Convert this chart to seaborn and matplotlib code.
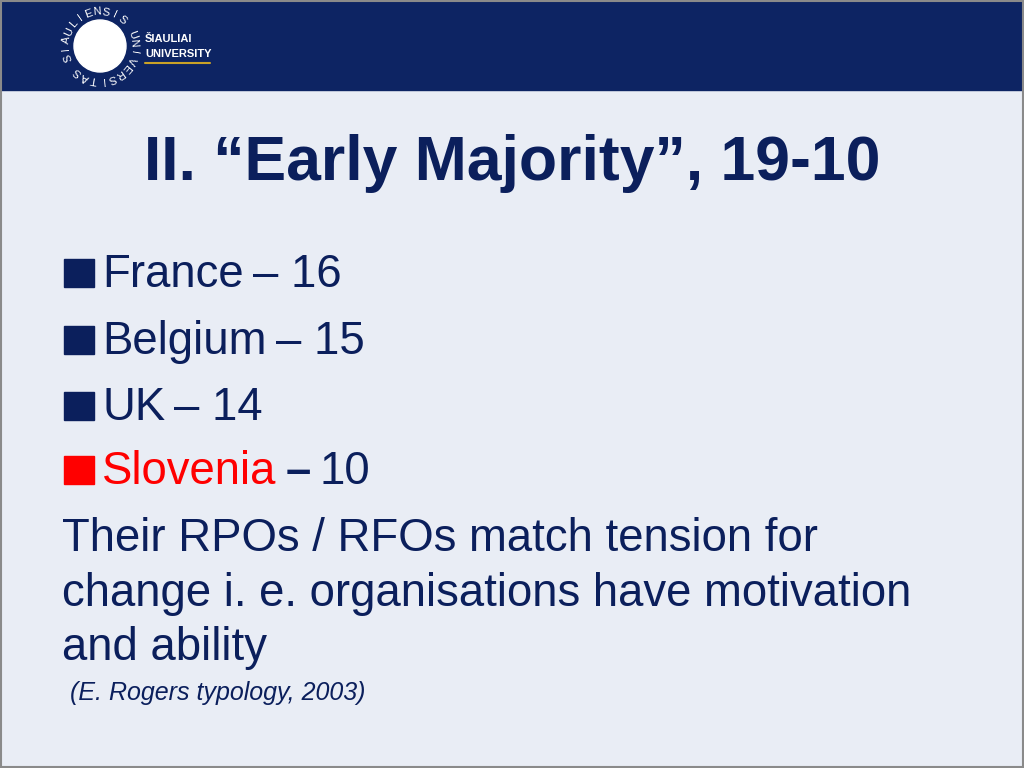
import matplotlib
matplotlib.use("Agg")
import matplotlib.pyplot as plt
import seaborn as sns
import numpy as np
from matplotlib.patches import Rectangle, Circle

sns.set_theme(style="white")
plt.rcParams['font.family'] = ['Liberation Sans', 'DejaVu Sans']

title = "II. \u201cEarly Majority\u201d, 19-10"
countries = ["France", "Belgium", "UK", "Slovenia"]
scores = [16, 15, 14, 10]
country_colors = ["#0b1f5c", "#0b1f5c", "#0b1f5c", "#ff0000"]
body_lines = ["Their RPOs / RFOs match tension for",
              "change i. e. organisations have motivation",
              "and ability"]
citation = "(E. Rogers typology, 2003)"

NAVY = "#0d2463"
TXT = "#0b1f5c"
FS = 32.8

fig = plt.figure(figsize=(10.24, 7.68), dpi=100)
ax = fig.add_axes([0, 0, 1, 1])
ax.set_xlim(0, 1024); ax.set_ylim(768, 0); ax.axis("off")
ax.add_patch(Rectangle((0, 0), 1024, 768, color="#e9edf5", zorder=0))
ax.add_patch(Rectangle((0, 0), 1024, 90, color=NAVY, zorder=1))
ax.add_patch(Rectangle((1, 1), 1022, 766, fill=False, ec="#8a8a8a", lw=1.5, zorder=5))

# logo
ax.add_patch(Circle((100, 46), 26, color="white", zorder=2))
ring = "SIAULIENSIS UNIVERSITAS "
angs = np.linspace(200, -160, len(ring), endpoint=False)
for ch, a in zip(ring, angs):
    r = np.deg2rad(a)
    ax.text(100 + 34*np.cos(r), 46 - 34*np.sin(r), ch, color="white", fontsize=8,
            ha="center", va="center", rotation=a - 90, zorder=3)
ax.text(145, 39, "ŠIAULIAI", color="white", fontsize=8, fontweight="bold", va="center")
ax.text(145, 54, "UNIVERSITY", color="white", fontsize=8, fontweight="bold", va="center")
ax.plot([145, 210], [63, 63], color="#c9a227", lw=1.5)

ax.text(512, 180, title, color=TXT, fontsize=45, fontweight="bold", ha="center", va="baseline")

ys = [273, 340, 406, 470]
for c, s, col, y in zip(countries, scores, country_colors, ys):
    base = y + 14
    ax.add_patch(Rectangle((64, base - 28), 30, 28, color=col, zorder=3))
    t = ax.text(102, base, c, color=col, fontsize=FS, va="baseline")
    fig.canvas.draw()
    bb = t.get_window_extent()
    x = bb.x1 + 9
    if col != TXT:
        t2 = ax.text(x, base, "\u2013", color=TXT, fontsize=FS, va="baseline", fontweight="bold")
        fig.canvas.draw()
        x = t2.get_window_extent().x1 + 9
        ax.text(x, base, f"{s}", color=TXT, fontsize=FS, va="baseline")
    else:
        ax.text(x, base, f"\u2013 {s}", color=TXT, fontsize=FS, va="baseline")
for line, y in zip(body_lines, [537, 592, 646]):
    ax.text(62, y + 14, line, color=TXT, fontsize=FS, va="baseline")
ax.text(70, 693, citation, color=TXT, fontsize=18, style="italic", va="center")

fig.savefig("out.png", dpi=100)
